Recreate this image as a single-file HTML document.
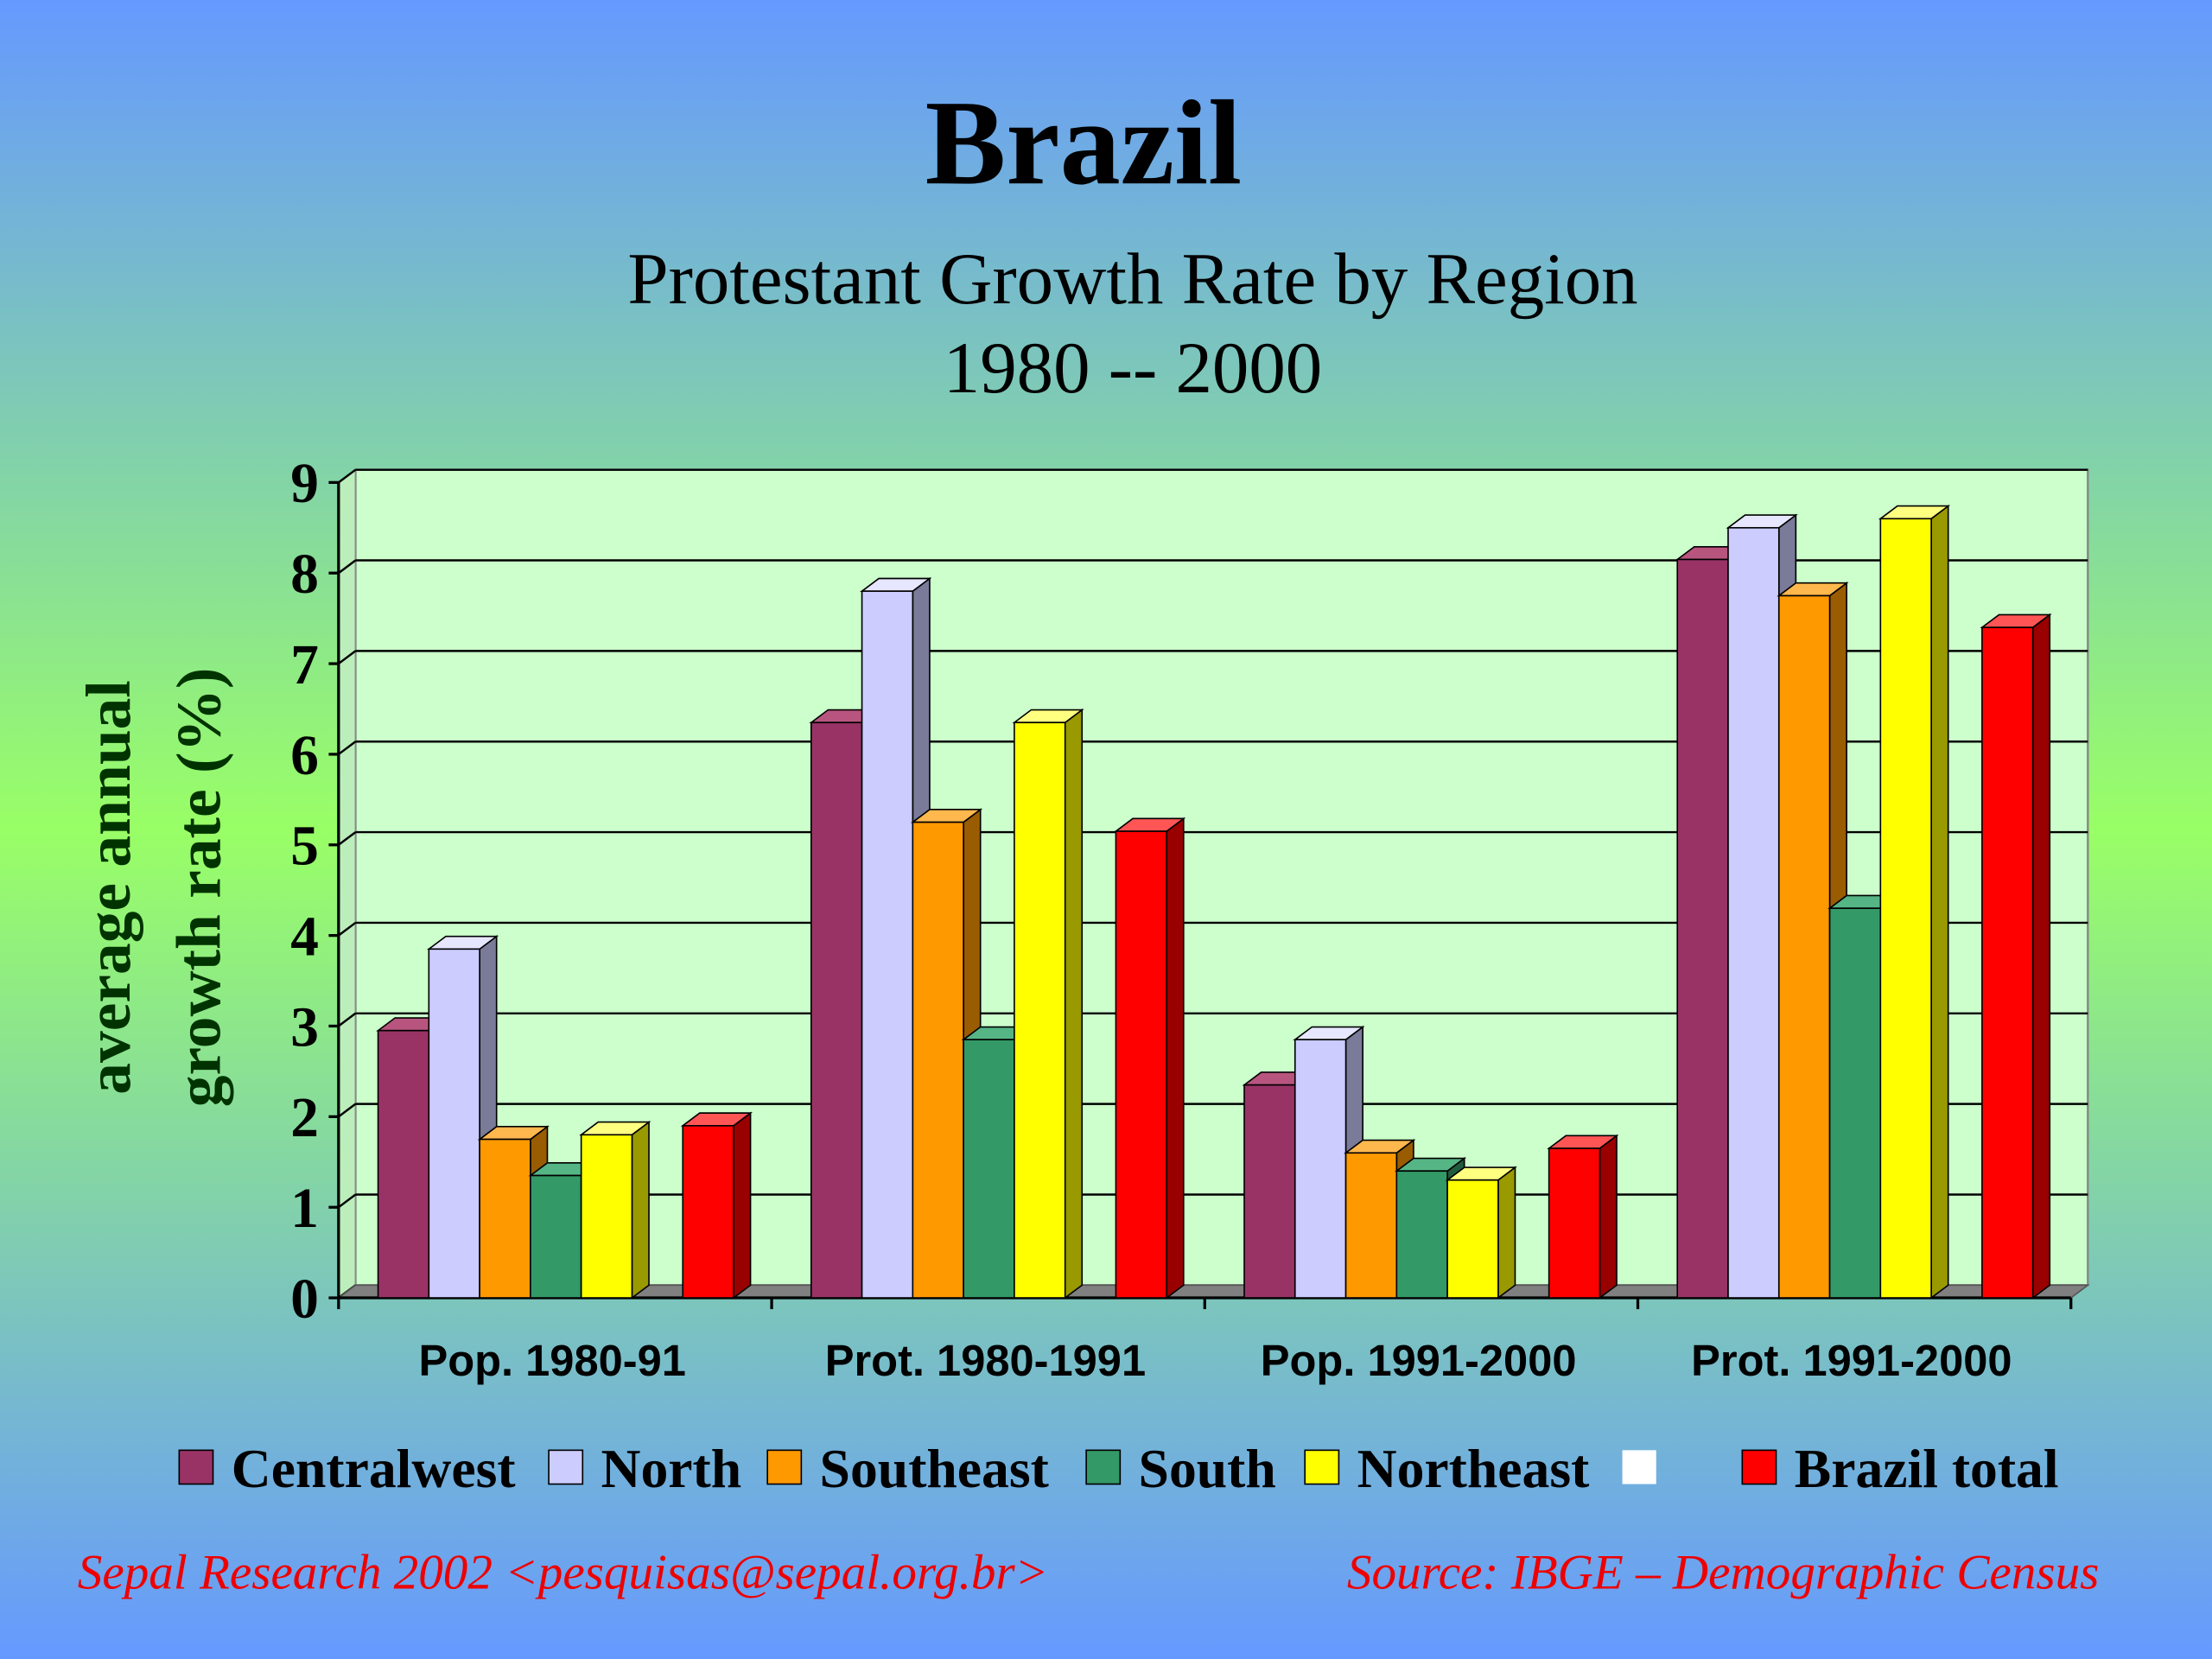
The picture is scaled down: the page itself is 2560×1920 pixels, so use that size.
<!DOCTYPE html>
<html><head><meta charset="utf-8"><style>
html,body{margin:0;padding:0;width:2560px;height:1920px;overflow:hidden}
svg{display:block}
</style></head><body>
<svg id="chart" width="2560" height="1920" viewBox="0 0 1568 1176" preserveAspectRatio="none" xmlns="http://www.w3.org/2000/svg">
<defs>
<linearGradient id="bg" x1="0" y1="0" x2="0" y2="1">
<stop offset="0" stop-color="#6699ff"/>
<stop offset="0.5" stop-color="#99ff66"/>
<stop offset="1" stop-color="#6699ff"/>
</linearGradient>
</defs>
<rect x="0" y="0" width="1568" height="1176" fill="url(#bg)"/>
<text x="768" y="130" text-anchor="middle" font-family="Liberation Serif, serif" font-weight="bold" font-size="86">Brazil</text>
<text x="803" y="215" text-anchor="middle" font-family="Liberation Serif, serif" font-size="52">Protestant Growth Rate by Region</text>
<text x="803" y="278" text-anchor="middle" font-family="Liberation Serif, serif" font-size="52">1980 -- 2000</text>
<g id="plot"></g>
<g font-family="Liberation Serif, serif" font-weight="bold" font-size="45" fill="#003300" text-anchor="middle">
<text transform="translate(92,629) rotate(-90)">average annual</text>
<text transform="translate(156,629) rotate(-90)">growth rate (%)</text>
</g>
<g id="legend" font-family="Liberation Serif, serif" font-weight="bold" font-size="39"></g>
<text x="55" y="1126" font-family="Liberation Serif, serif" font-style="italic" font-size="35" fill="#ee0000">Sepal Research 2002 &lt;pesquisas@sepal.org.br&gt;</text>
<text x="1488" y="1126" text-anchor="end" font-family="Liberation Serif, serif" font-style="italic" font-size="35" fill="#ee0000">Source: IBGE – Demographic Census</text>
</svg>
<script>
const categories = ["Pop. 1980-91","Prot. 1980-1991","Pop. 1991-2000","Prot. 1991-2000"];
const seriesNames = ["Centralwest","North","Southeast","South","Northeast","","Brazil total"];
const centralwest = [2.95, 6.35, 2.35, 8.15];
const north = [3.85, 7.8, 2.85, 8.5];
const southeast = [1.75, 5.25, 1.6, 7.75];
const south = [1.35, 2.85, 1.4, 4.3];
const northeast = [1.8, 6.35, 1.3, 8.6];
const blank = [0, 0, 0, 0];
const brazilTotal = [1.9, 5.15, 1.65, 7.4];
const yTicks = [0,1,2,3,4,5,6,7,8,9];

const series = [centralwest, north, southeast, south, northeast, blank, brazilTotal];
const colors = [["#993366","#b8557f","#5c1f3d"],["#ccccff","#e6e6ff","#7a7a99"],["#ff9900","#ffb84d","#995c00"],["#339966","#55b585","#1f5c3d"],["#ffff00","#ffff80","#999900"],["#ffffff","#ffffff","#ffffff"],["#ff0000","#ff5555","#990000"]];
const NS="http://www.w3.org/2000/svg";
const X0=240, X1=1468, Y0=920, YMAX=9, PH=578, DX=12, DY=-9;
function y(v){return Y0 - v/YMAX*PH;}
const groupW=(X1-X0)/categories.length, barW=36;
function bx(g,s){return X0+g*groupW+28+s*barW;}
function el(tag,attrs,parent){const e=document.createElementNS(NS,tag);for(const k in attrs)e.setAttribute(k,attrs[k]);parent.appendChild(e);return e;}
const plot=document.getElementById('plot');
const wall=el('rect',{x:X0+DX,y:y(YMAX)+DY,width:X1-X0,height:PH,fill:"#ccffcc",stroke:"#888",'stroke-width':1.5},plot);


el('polygon',{points:`${X0},${y(YMAX)} ${X0+DX},${y(YMAX)+DY} ${X0+DX},${Y0+DY} ${X0},${Y0}`,fill:"#bbeebb",stroke:"#888"},plot);
yTicks.forEach(t=>{
  if(t>0){const g=el('line',{x1:X0+DX,x2:X1+DX,y1:y(t)+DY,y2:y(t)+DY,stroke:"#000",'stroke-width':1.5},plot);
  
  }
  el('line',{x1:X0,x2:X0+DX,y1:y(t),y2:y(t)+DY,stroke:"#000",'stroke-width':1.5},plot);
  el('line',{x1:X0-7,x2:X0,y1:y(t),y2:y(t),stroke:"#000",'stroke-width':2},plot);
  const lb=el('text',{x:X0-14,y:y(t)+14,'text-anchor':'end','font-family':'Liberation Serif, serif','font-weight':'bold','font-size':40},plot);
  lb.textContent=t;
  
  
});
const fl=el('polygon',{points:`${X0},${Y0} ${X1},${Y0} ${X1+DX},${Y0+DY} ${X0+DX},${Y0+DY}`,fill:"#808080",stroke:"#555"},plot);


el('line',{x1:X0,x2:X0,y1:y(YMAX),y2:Y0,stroke:"#000",'stroke-width':2},plot);
el('line',{x1:X0,x2:X1,y1:Y0,y2:Y0,stroke:"#000",'stroke-width':2},plot);
categories.forEach((c,g)=>{
  el('line',{x1:X0+g*groupW,x2:X0+g*groupW,y1:Y0,y2:Y0+8,stroke:"#000",'stroke-width':2},plot);
  if(g==categories.length-1) el('line',{x1:X1,x2:X1,y1:Y0,y2:Y0+8,stroke:"#000",'stroke-width':2},plot);
  const t=el('text',{x:X0+(g+0.5)*groupW-2,y:975,'text-anchor':'middle','font-family':'Liberation Sans, sans-serif','font-weight':'bold','font-size':31},plot);
  t.textContent=c;
  
  
});
categories.forEach((c,g)=>{
  series.forEach((arr,s)=>{
    const v=arr[g]; if(!v) return;
    const x=bx(g,s), top=y(v), col=colors[s];
    const gg=el('g',{stroke:"#000",'stroke-width':1},plot);
    
    
    el('polygon',{points:`${x+barW},${top} ${x+barW+DX},${top+DY} ${x+barW+DX},${Y0+DY} ${x+barW},${Y0}`,fill:col[2]},gg);
    el('polygon',{points:`${x},${top} ${x+DX},${top+DY} ${x+barW+DX},${top+DY} ${x+barW},${top}`,fill:col[1]},gg);
    el('rect',{x:x,y:top,width:barW,height:Y0-top,fill:col[0]},gg);
  });
});
const legend=document.getElementById('legend');
const lx=[127,389,544,770,925,1150,1235];
seriesNames.forEach((n,s)=>{
  const g=el('g',{},legend);
  
  
  el('rect',{x:lx[s],y:1028,width:24,height:24,fill:colors[s][0],stroke:s==5?"none":"#000",'stroke-width':1},g);
  if(n){const t=el('text',{x:lx[s]+37,y:1054},g);t.textContent=n;}
});
</script>
</body></html>
